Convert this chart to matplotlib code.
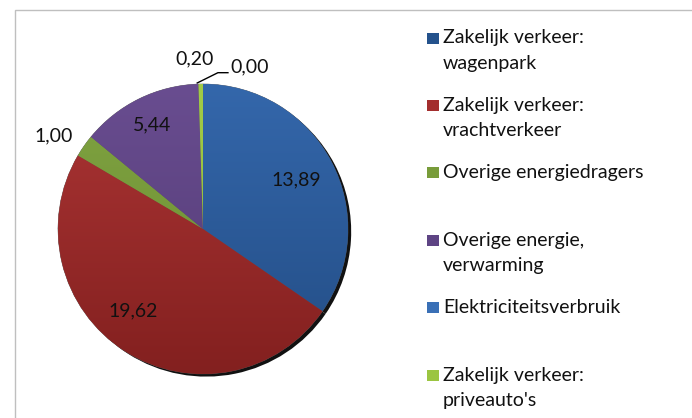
import numpy as np
import matplotlib
matplotlib.use("Agg")
import matplotlib.pyplot as plt
from matplotlib.colors import LinearSegmentedColormap
from matplotlib.patches import Rectangle

plt.rcParams['font.family'] = ['Lato', 'DejaVu Sans']

labels = ["Zakelijk verkeer:\nwagenpark", "Zakelijk verkeer:\nvrachtverkeer",
          "Overige energiedragers", "Overige energie,\nverwarming",
          "Elektriciteitsverbruik", "Zakelijk verkeer:\npriveauto's"]
values = [13.89, 19.62, 1.00, 5.44, 0.00, 0.20]
value_text = ["13,89", "19,62", "1,00", "5,44", "0,00", "0,20"]

# top / bottom colours of the gradient fill per slice
light = ['#3467AB', '#AC3535', '#80A441', '#694D90', '#3C74BC', '#A2CC46']
dark = ['#234D85', '#83201F', '#6B8B33', '#523A74', '#2C5E9E', '#8DB437']
legend_col = ['#24528C', '#A32E2E', '#789C3A', '#5E4484', '#3A70B6', '#9BC541']

W, H = 692, 418
fs = 14
fig = plt.figure(figsize=(W / 100, H / 100), dpi=100)

# chart border (only left/top visible)
fig.patches.append(Rectangle((15 / W, -0.1), 1.2, (H - 10) / H + 0.1,
                             transform=fig.transFigure, fill=False,
                             edgecolor='#BFBFBF', linewidth=1.0))

cx, cy, R = 203, 229, 145
ax = fig.add_axes([(cx - R) / W, (H - cy - R) / H, 2 * R / W, 2 * R / H])
ax.set_xlim(-1, 1)
ax.set_ylim(-1, 1)
ax.set_aspect('equal')
ax.axis('off')

# shadow
ax.pie(values, startangle=90, counterclock=False, radius=1,
       center=(0.022, -0.018), colors=['#111111'] * len(values),
       wedgeprops=dict(linewidth=0))
wedges, _ = ax.pie(values, startangle=90, counterclock=False, radius=1,
                   colors=light, wedgeprops=dict(linewidth=0.4, edgecolor='#555555'))
ax.set_xlim(-1, 1)
ax.set_ylim(-1, 1)

grad = np.linspace(0, 1, 256).reshape(-1, 1)
for w, c1, c2 in zip(wedges, light, dark):
    cmap = LinearSegmentedColormap.from_list('g', [c1, c2])
    im = ax.imshow(grad, cmap=cmap, extent=(-1, 1, -1, 1), aspect='auto',
                   origin='upper', zorder=w.get_zorder() + 0.1)
    im.set_clip_path(w)

# value labels
label_r = [0.73, 0.74, 1.21, 0.8]
angle_shift = [0, -8, 3, 0]
for i in range(4):
    w = wedges[i]
    ang = np.deg2rad((w.theta1 + w.theta2) / 2 + angle_shift[i])
    ax.text(label_r[i] * np.cos(ang), label_r[i] * np.sin(ang), value_text[i],
            ha='center', va='center', fontsize=fs, color='#111111', zorder=10,
            clip_on=False)

ax.text(-0.055, 1.17, value_text[5], ha='center', va='center',
        fontsize=fs, color='#111111', clip_on=False, zorder=10)
ax.plot([-0.04, 0.103, 0.172], [1.007, 1.078, 1.078], color='black',
        linewidth=1.0, clip_on=False, zorder=10)
ax.text(0.186, 1.115, value_text[4], ha='left', va='center',
        fontsize=fs, color='#111111', clip_on=False, zorder=10)

# legend
sq_w, sq_h = 12, 11
for i, (lab, col) in enumerate(zip(labels, legend_col)):
    yc = 38 + 67.4 * i
    fig.patches.append(Rectangle((427 / W, (H - yc - sq_h / 2) / H), sq_w / W, sq_h / H,
                                 transform=fig.transFigure, facecolor=col,
                                 edgecolor='none'))
    for j, line in enumerate(lab.split('\n')):
        fig.text(443 / W, (H - yc - 25.5 * j) / H, line, ha='left', va='center',
                 fontsize=fs, color='#111111')

fig.savefig('out.png', dpi=100)
